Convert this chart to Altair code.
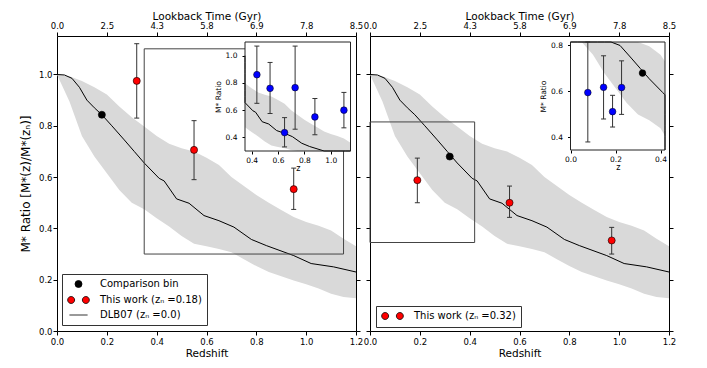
import altair as alt
import pandas as pd

FONT = "DejaVu Sans"
W, H = 299, 295
GRAY = "#d9d9d9"
EC = "#333333"

# ---------------- shared axis values ----------------
redshift_ticks = [0.0, 0.2, 0.4, 0.6, 0.8, 1.0, 1.2]
lookback_labels = ["0.0", "2.5", "4.3", "5.8", "6.9", "7.8", "8.5"]
ratio_ticks = [0.0, 0.2, 0.4, 0.6, 0.8, 1.0]

# ---------------- DLB07 model (line + spread band) ----------------
model_z = [0.00, 0.03, 0.06, 0.09, 0.12, 0.15, 0.18, 0.22, 0.27, 0.31, 0.35, 0.41,
           0.43, 0.48, 0.53, 0.59, 0.65, 0.71, 0.78, 0.84, 0.95, 1.02, 1.11, 1.20]
model_r = [1.00, 0.998, 0.985, 0.95, 0.90, 0.87, 0.843, 0.80, 0.745, 0.70, 0.655, 0.595,
           0.585, 0.515, 0.498, 0.45, 0.43, 0.405, 0.357, 0.333, 0.294, 0.263, 0.25, 0.23]

band_z = [0.00, 0.05, 0.10, 0.15, 0.20, 0.25, 0.30, 0.35, 0.40, 0.45, 0.50, 0.55, 0.60,
          0.65, 0.70, 0.75, 0.80, 0.85, 0.90, 0.95, 1.00, 1.05, 1.10, 1.15, 1.20]
band_hi = [1.00, 0.993, 0.975, 0.95, 0.922, 0.875, 0.833, 0.797, 0.76, 0.73, 0.712, 0.70, 0.675,
           0.647, 0.60, 0.565, 0.53, 0.50, 0.472, 0.444, 0.425, 0.41, 0.392, 0.36, 0.33]
band_lo = [1.00, 0.895, 0.76, 0.68, 0.615, 0.55, 0.50, 0.475, 0.44, 0.407, 0.37, 0.34, 0.33,
           0.32, 0.307, 0.28, 0.253, 0.23, 0.213, 0.197, 0.182, 0.166, 0.145, 0.133, 0.128]

# ---------------- left panel (z_n = 0.18) ----------------
left_comp_z = [0.18]
left_comp_r = [0.843]
left_work_z = [0.32, 0.55, 0.95]
left_work_r = [0.975, 0.706, 0.553]
left_work_lo = [0.83, 0.59, 0.474]
left_work_hi = [1.12, 0.82, 0.635]
left_inset_z = [0.44, 0.54, 0.65, 0.73, 0.88, 1.10]
left_inset_r = [0.86, 0.76, 0.435, 0.765, 0.55, 0.60]
left_inset_lo = [0.65, 0.575, 0.33, 0.46, 0.42, 0.47]
left_inset_hi = [1.07, 0.95, 0.545, 1.07, 0.685, 0.73]
left_zoom_z = [0.35, 1.15]
left_zoom_r = [0.30, 1.10]
left_inset_zticks = [0.4, 0.6, 0.8, 1.0]
left_inset_rticks = [0.4, 0.6, 0.8, 1.0]
left_legend = ["Comparison bin", "This work (zₙ =0.18)", "DLB07 (zₙ =0.0)"]

# ---------------- right panel (z_n = 0.32) ----------------
right_comp_z = [0.32]
right_comp_r = [0.68]
right_work_z = [0.19, 0.56, 0.97]
right_work_r = [0.588, 0.50, 0.353]
right_work_lo = [0.50, 0.443, 0.30]
right_work_hi = [0.674, 0.565, 0.404]
right_inset_z = [0.077, 0.147, 0.187, 0.227]
right_inset_r = [0.595, 0.618, 0.512, 0.617]
right_inset_lo = [0.38, 0.48, 0.445, 0.50]
right_inset_hi = [0.82, 0.755, 0.583, 0.733]
right_zoom_z = [0.0, 0.42]
right_zoom_r = [0.345, 0.815]
right_inset_zticks = [0.0, 0.2, 0.4]
right_inset_rticks = [0.4, 0.6, 0.8]
right_legend = ["This work (zₙ =0.32)"]

# legend glyphs (custom symbol paths)
SYM_TWO = ("M-3.1,0A1,1,0,1,0,-1.1,0A1,1,0,1,0,-3.1,0Z "
           "M1.1,0A1,1,0,1,0,3.1,0A1,1,0,1,0,1.1,0Z")
SYM_LINE = "M-2.6,0H2.6"

LOOKBACK_EXPR = "[" + ",".join("'%s'" % s for s in lookback_labels) + "][round(datum.value*5)]"


def panel(p):
    xs = alt.Scale(domain=[0, 1.2], nice=False, zero=False)
    ys = alt.Scale(domain=[0, 1.15], nice=False, zero=False)
    ax_x = alt.Axis(orient="bottom", values=redshift_ticks, format=".1f", title="Redshift")
    if p["ytitle"]:
        ax_y = alt.Axis(orient="left", values=ratio_ticks, format=".1f", title=p["ytitle"],
                        titlePadding=6, labelPadding=1, titleFontSize=12)
    else:
        ax_y = alt.Axis(orient="left", values=ratio_ticks, labels=False, title=None)

    def mX(f):
        return alt.X(f"{f}:Q", scale=xs, axis=ax_x)

    def mY(f):
        return alt.Y(f"{f}:Q", scale=ys, axis=ax_y)

    band_df = pd.DataFrame({"z": band_z, "lo": band_lo, "hi": band_hi})
    model_df = pd.DataFrame({"z": model_z, "r": model_r})
    work_df = pd.DataFrame({"z": p["wz"], "r": p["wr"], "lo": p["wlo"], "hi": p["whi"]})
    comp_df = pd.DataFrame({"z": p["cz"], "r": p["cr"]})
    zoom_df = pd.DataFrame({"z": [p["zx"][0]], "z2": [p["zx"][1]],
                            "r": [p["zy"][0]], "r2": [p["zy"][1]]})
    inset_df = pd.DataFrame({"z": p["iz"], "r": p["ir"], "lo": p["ilo"], "hi": p["ihi"]})
    leg_df = pd.DataFrame({"series": p["legend"], "z": [0.5] * len(p["legend"]),
                           "r": [0.5] * len(p["legend"])})

    band = alt.Chart(band_df).mark_area(color=GRAY, opacity=1).encode(
        x=mX("z"), y=mY("lo"), y2="hi:Q")
    line = alt.Chart(model_df).mark_line(color="black", strokeWidth=1).encode(
        x=mX("z"), y=mY("r"))
    box = alt.Chart(zoom_df).mark_rect(fillOpacity=0, stroke="#444", strokeWidth=1).encode(
        x=mX("z"), x2="z2:Q", y=mY("r"), y2="r2:Q")
    bars = alt.Chart(work_df).mark_rule(color=EC, strokeWidth=1).encode(
        x=mX("z"), y=mY("lo"), y2="hi:Q")
    cap_lo = alt.Chart(work_df).mark_tick(orient="horizontal", color=EC, size=5, thickness=1,
                                          opacity=1).encode(x=mX("z"), y=mY("lo"))
    cap_hi = alt.Chart(work_df).mark_tick(orient="horizontal", color=EC, size=5, thickness=1,
                                          opacity=1).encode(x=mX("z"), y=mY("hi"))
    work_pts = alt.Chart(work_df).mark_point(filled=True, size=50, fill="#ff0000", stroke="black",
                                             strokeWidth=0.6, opacity=1).encode(x=mX("z"), y=mY("r"))
    comp_pts = alt.Chart(comp_df).mark_point(filled=True, size=50, fill="black", stroke="black",
                                             strokeWidth=0.6, opacity=1).encode(x=mX("z"), y=mY("r"))

    leg = alt.Legend(orient="none", legendX=p["legxy"][0], legendY=p["legxy"][1], title=None,
                     padding=5, strokeColor="#333", fillColor="white", labelFont=FONT,
                     labelFontSize=10, labelColor="black", symbolSize=49, symbolStrokeColor="black",
                     symbolStrokeWidth=0.8, symbolOffset=6.5, labelOffset=16.5, rowPadding=4,
                     labelLimit=400, cornerRadius=0)
    legend_layer = alt.Chart(leg_df).transform_filter("false").mark_point(
        filled=True, opacity=1).encode(
        x=mX("z"), y=mY("r"),
        color=alt.Color("series:N", scale=alt.Scale(domain=p["legend"], range=p["legcolors"]),
                        legend=leg),
        shape=alt.Shape("series:N", scale=alt.Scale(domain=p["legend"], range=p["legshapes"]),
                        legend=leg))

    main = alt.layer(band, line, box, bars, cap_lo, cap_hi, comp_pts, work_pts, legend_layer)

    # top (lookback time) axis and right-hand ticks
    top = alt.Chart(model_df).mark_line(opacity=0).encode(
        x=alt.X("z:Q", scale=alt.Scale(domain=[0, 1.2], nice=False, zero=False),
                axis=alt.Axis(orient="top", values=redshift_ticks, labelExpr=LOOKBACK_EXPR,
                              title="Lookback Time (Gyr)", titlePadding=0)),
        y=alt.Y("r:Q", scale=alt.Scale(domain=[0, 1.15], nice=False, zero=False),
                axis=alt.Axis(orient="right", values=ratio_ticks, labels=False, title=None)))

    # inset
    xi = alt.Scale(domain=p["zx"], range=p["ixr"], clamp=True, nice=False, zero=False)
    yi = alt.Scale(domain=p["zy"], range=p["iyr"], clamp=True, nice=False, zero=False)
    ax_xi = alt.Axis(orient="bottom", offset=-(H - p["iyr"][0]), values=p["izt"], format=".1f",
                     title="z", labelFontSize=7.5, titleFontSize=8, tickSize=3, labelPadding=2,
                     titlePadding=1)
    ax_yi = alt.Axis(orient="left", offset=-p["ixr"][0], values=p["irt"], format=".1f",
                     title="M* Ratio", labelFontSize=7.5, titleFontSize=7.5, tickSize=3,
                     labelPadding=5, titlePadding=3)

    def iX(f):
        return alt.X(f"{f}:Q", scale=xi, axis=ax_xi)

    def iY(f):
        return alt.Y(f"{f}:Q", scale=yi, axis=ax_yi)

    in_range = alt.FieldRangePredicate(field="z", range=p["zx"])
    ibg = alt.Chart(zoom_df).mark_rect(fill="white", strokeOpacity=0).encode(
        x=iX("z"), x2="z2:Q", y=iY("r"), y2="r2:Q")
    iband = alt.Chart(band_df).mark_area(color=GRAY, opacity=1).encode(
        x=iX("z"), y=iY("lo"), y2="hi:Q")
    iline = alt.Chart(model_df).mark_line(color="black", strokeWidth=1).encode(
        x=iX("z"), y=iY("r"))
    ibars = alt.Chart(inset_df).mark_rule(color=EC, strokeWidth=1).encode(
        x=iX("z"), y=iY("lo"), y2="hi:Q")
    icap_lo = alt.Chart(inset_df).mark_tick(orient="horizontal", color=EC, size=5, thickness=1,
                                            opacity=1).encode(x=iX("z"), y=iY("lo"))
    icap_hi = alt.Chart(inset_df).mark_tick(orient="horizontal", color=EC, size=5, thickness=1,
                                            opacity=1).encode(x=iX("z"), y=iY("hi"))
    ipts = alt.Chart(inset_df).mark_point(filled=True, size=45, fill="#0000ff", stroke="black",
                                          strokeWidth=0.5, opacity=1).encode(x=iX("z"), y=iY("r"))
    icomp = alt.Chart(comp_df).transform_filter(in_range).mark_point(
        filled=True, size=45, fill="black", stroke="black", strokeWidth=0.5,
        opacity=1).encode(x=iX("z"), y=iY("r"))
    iborder = alt.Chart(zoom_df).mark_rect(fillOpacity=0, stroke="#222", strokeWidth=1).encode(
        x=iX("z"), x2="z2:Q", y=iY("r"), y2="r2:Q")
    inset = alt.layer(ibg, iband, iline, ibars, icap_lo, icap_hi, ipts, icomp, iborder)

    return alt.layer(main, top, inset).resolve_scale(
        x="independent", y="independent").properties(width=W, height=H)


left = panel(dict(
    ytitle="M* Ratio [M*(z)/M*(zₙ)]",
    wz=left_work_z, wr=left_work_r, wlo=left_work_lo, whi=left_work_hi,
    cz=left_comp_z, cr=left_comp_r,
    iz=left_inset_z, ir=left_inset_r, ilo=left_inset_lo, ihi=left_inset_hi,
    zx=left_zoom_z, zy=left_zoom_r, izt=left_inset_zticks, irt=left_inset_rticks,
    ixr=[188, 293.5], iyr=[115, 6],
    legend=left_legend, legcolors=["black", "#ff0000", "black"],
    legshapes=["circle", SYM_TWO, SYM_LINE], legxy=[5, 238]))

right = panel(dict(
    ytitle="",
    wz=right_work_z, wr=right_work_r, wlo=right_work_lo, whi=right_work_hi,
    cz=right_comp_z, cr=right_comp_r,
    iz=right_inset_z, ir=right_inset_r, ilo=right_inset_lo, ihi=right_inset_hi,
    zx=right_zoom_z, zy=right_zoom_r, izt=right_inset_zticks, irt=right_inset_rticks,
    ixr=[200.5, 295], iyr=[114, 6],
    legend=right_legend, legcolors=["#ff0000"],
    legshapes=[SYM_TWO], legxy=[6, 270]))

chart = alt.hconcat(left, right, spacing=14, bounds="flush").resolve_scale(
    color="independent", shape="independent").resolve_legend(
    color="independent", shape="independent").properties(
    padding={"left": 10, "top": 2, "right": 5, "bottom": 5}
).configure_view(stroke="black", strokeWidth=1).configure_axis(
    labelFont=FONT, titleFont=FONT, labelFontSize=8.5, titleFontSize=10.5,
    titleFontWeight="normal", labelColor="black", titleColor="black", tickColor="black",
    domain=False, grid=False, labelFlush=False, labelOverlap=False, tickSize=4, labelPadding=2,
    titlePadding=3)

chart.save("out.html", embed_options={"renderer": "svg", "actions": False})
